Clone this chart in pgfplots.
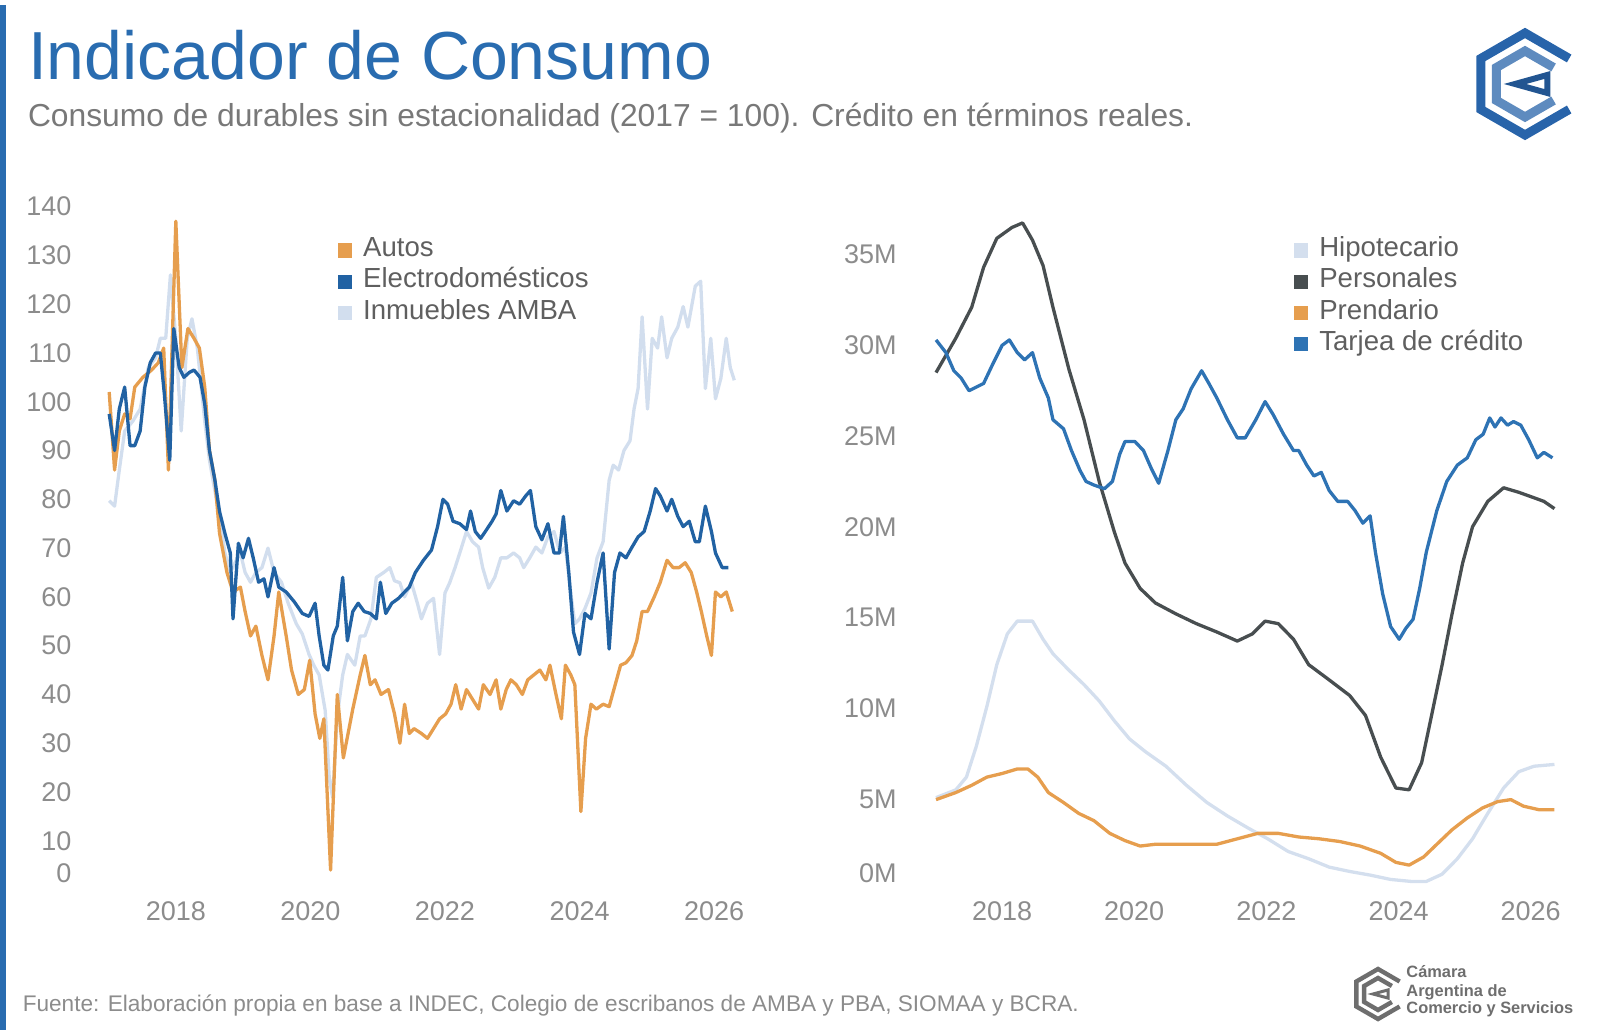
\documentclass[border=0pt]{standalone}
\usepackage{pgfplots}
\pgfplotsset{compat=1.18}
\usepackage{fontspec}
\setmainfont{Liberation Sans}
\definecolor{titleblue}{RGB}{41,108,176}
\definecolor{subgray}{RGB}{120,120,120}
\definecolor{tickgray}{RGB}{140,140,140}
\definecolor{leggray}{RGB}{95,95,95}
\definecolor{cauto}{RGB}{230,158,78}
\definecolor{celec}{RGB}{33,98,163}
\definecolor{cinm}{RGB}{210,222,238}
\definecolor{chipo}{RGB}{212,223,238}
\definecolor{cpers}{RGB}{72,78,80}
\definecolor{ctarj}{RGB}{46,115,180}
\definecolor{logoblue}{RGB}{40,100,170}
\definecolor{logogray}{RGB}{110,110,110}
\pgfplotsset{
  panel/.style={
    scale only axis,
    axis line style={draw=none},
    major tick length=0pt,
    tick style={draw=none},
    tick label style={font=\fontsize{13.5}{15}\selectfont, text=tickgray},
    /pgf/number format/assume math mode=true,
    xtick={2018,2020,2022,2024,2026},
    xticklabels={2018,2020,2022,2024,2026},
    xticklabel style={yshift=-2.4pt},
    xmin=2016.9, xmax=2026.45,
    ymin=0,
    legend cell align=left,
    legend image code/.code={\fill[#1,draw=none] (0pt,-3.6pt) rectangle (7.2pt,3.6pt);},
    legend style={draw=none, fill=none, anchor=north west, inner sep=0pt,
      font=\fontsize{13.8}{15.6}\selectfont, text=leggray, row sep=0pt,
      /tikz/every odd column/.append style={column sep=3.5pt},
      nodes={inner ysep=0pt, text height=10.9pt, text depth=4.7pt}},
    every axis plot/.append style={line width=1.65pt, line join=round},
  }
}
\begin{document}
\begin{tikzpicture}
\useasboundingbox (0,0) rectangle (800pt,516.5pt);
\fill[titleblue] (0,1.5pt) rectangle (3pt,514pt);
\node[anchor=base west, inner sep=0pt, text=titleblue, font=\fontsize{34}{40}\selectfont] at (13.8pt,476.6pt) {Indicador de Consumo};
\node[anchor=base west, inner sep=0pt, text=subgray, font=\fontsize{15.9}{18}\selectfont] at (13.8pt,453.1pt) {Consumo de durables sin estacionalidad (2017 = 100). Crédito en términos reales.};
\node[anchor=base west, inner sep=0pt, text=tickgray, font=\fontsize{11.3}{13}\selectfont] at (11.2pt,11pt) {Fuente: Elaboración propia en base a INDEC, Colegio de escribanos de AMBA y PBA, SIOMAA y BCRA.};
% logo top right
\begin{scope}[shift={(762.5pt,474.5pt)}, line width=4.5pt, line join=miter]
\draw[logoblue] (30:25.5pt) -- (90:25.5pt) -- (150:25.5pt) -- (210:25.5pt) -- (270:25.5pt) -- (330:25.5pt);
\draw[logoblue!75!white] (30:16.5pt) -- (90:16.5pt) -- (150:16.5pt) -- (210:16.5pt) -- (270:16.5pt) -- (330:16.5pt);
\draw[logoblue!85!black, line width=3pt] (22:12pt) -- (180:5pt) -- (338:12pt) -- cycle;
\end{scope}
% logo bottom right
\begin{scope}[shift={(689pt,19.5pt)}, line width=2.2pt, line join=miter]
\draw[logogray] (30:12.5pt) -- (90:12.5pt) -- (150:12.5pt) -- (210:12.5pt) -- (270:12.5pt) -- (330:12.5pt);
\draw[logogray] (30:8pt) -- (90:8pt) -- (150:8pt) -- (210:8pt) -- (270:8pt) -- (330:8pt);
\draw[logogray, line width=1.5pt] (22:5.5pt) -- (180:2.5pt) -- (338:5.5pt) -- cycle;
\end{scope}
\node[anchor=base west, inner sep=0pt, text=logogray, font=\bfseries\fontsize{8.2}{9}\selectfont] at (703pt,27.5pt) {Cámara};
\node[anchor=base west, inner sep=0pt, text=logogray, font=\bfseries\fontsize{8.2}{9}\selectfont] at (703pt,18.5pt) {Argentina de};
\node[anchor=base west, inner sep=0pt, text=logogray, font=\bfseries\fontsize{8.2}{9}\selectfont] at (703pt,9.5pt) {Comercio y Servicios};

% ---------------- left panel
\begin{axis}[panel, at={(50.9pt,71.7pt)}, anchor=south west,
  width=321.3pt, height=341.5pt, ymax=140,
  ytick={10,20,...,140}, extra y ticks={0},
  extra y tick style={tick label style={yshift=8.2pt}},
  yticklabel style={xshift=-11.7pt},
  legend style={at={(0.3666,0.959)}}]
\addlegendimage{cauto}\addlegendentry{Autos}
\addlegendimage{celec}\addlegendentry{Electrodomésticos}
\addlegendimage{cinm}\addlegendentry{Inmuebles AMBA}
\addplot[cinm, forget plot] table {
2017.01 79.7
2017.09 78.6
2017.16 86
2017.24 94
2017.36 96
2017.47 98.5
2017.59 107
2017.70 109
2017.77 113
2017.85 113
2017.92 126
2018.00 113
2018.08 94
2018.17 113
2018.24 117
2018.32 111
2018.43 96
2018.50 88
2018.58 81.8
2018.65 76.5
2018.73 69
2018.81 65
2018.88 67
2018.96 69
2019.03 65
2019.11 63
2019.19 65
2019.28 66
2019.37 70
2019.46 65
2019.57 63
2019.67 58.7
2019.79 54.5
2019.88 52.4
2019.98 48.2
2020.05 46
2020.13 44
2020.22 36.7
2020.28 23
2020.33 18.9
2020.40 35.6
2020.48 44
2020.55 48.2
2020.66 46
2020.74 52
2020.81 52
2020.90 55.5
2020.98 64
2021.09 65
2021.18 66
2021.25 63.3
2021.33 62.9
2021.40 60
2021.50 63
2021.59 58.7
2021.65 55.5
2021.74 58.7
2021.83 59.7
2021.92 48.2
2022.00 60.8
2022.07 62.9
2022.15 66
2022.22 69
2022.32 73.4
2022.41 71.3
2022.50 70.2
2022.56 66
2022.65 61.8
2022.74 64
2022.83 68
2022.92 68
2023.02 69
2023.11 68
2023.17 66
2023.26 68
2023.35 70.2
2023.44 69
2023.53 72.3
2023.62 73.4
2023.71 69
2023.79 70.2
2023.87 60.8
2023.93 54.5
2024.00 55.5
2024.08 57.6
2024.17 60.8
2024.26 68
2024.35 71.3
2024.44 83.9
2024.50 87
2024.58 86
2024.66 90
2024.75 92
2024.81 98.5
2024.87 102.7
2024.93 117.4
2025.01 98.5
2025.08 113
2025.16 111
2025.22 117.4
2025.30 109
2025.37 113
2025.46 115.3
2025.54 119.5
2025.61 115.3
2025.72 123.7
2025.80 124.7
2025.87 102.7
2025.95 113
2026.02 100.6
2026.10 104.8
2026.18 113
2026.24 107
2026.30 104.4
};
\addplot[cauto, forget plot] table {
2017.01 102
2017.09 86
2017.16 94
2017.24 97.5
2017.32 96.5
2017.39 103
2017.51 105
2017.64 106.5
2017.74 108
2017.82 111
2017.89 86
2018.00 137
2018.09 107
2018.18 115
2018.27 113
2018.35 111
2018.43 103
2018.50 90
2018.58 84
2018.65 73
2018.76 65
2018.85 61
2018.96 62
2019.03 57
2019.11 52
2019.19 54
2019.28 48
2019.37 43
2019.46 52
2019.53 61
2019.64 52
2019.72 45
2019.82 40
2019.91 41
2019.99 47
2020.07 36
2020.14 31
2020.20 35
2020.30 4
2020.40 40
2020.49 27
2020.63 37
2020.74 44
2020.81 48
2020.89 42
2020.96 43
2021.05 40
2021.16 41
2021.25 36
2021.33 30
2021.40 38
2021.47 32
2021.54 33
2021.65 32
2021.74 31
2021.83 33
2021.92 35
2022.01 36
2022.09 38
2022.16 42
2022.24 37
2022.32 41
2022.41 39
2022.50 37
2022.57 42
2022.67 40
2022.76 43
2022.83 37
2022.91 41
2022.98 43
2023.06 42
2023.15 40
2023.23 43
2023.32 44
2023.41 45
2023.50 43
2023.56 46
2023.65 40
2023.73 35
2023.79 46
2023.87 44
2023.93 42
2024.02 16
2024.09 31
2024.17 38
2024.25 37
2024.35 38
2024.44 37.5
2024.53 42
2024.61 46
2024.69 46.5
2024.78 48
2024.85 51
2024.93 57
2025.01 57
2025.11 60
2025.20 63
2025.30 67.5
2025.39 66
2025.48 66
2025.57 67
2025.66 65
2025.74 61
2025.81 57
2025.89 52
2025.96 48
2026.02 61
2026.10 60
2026.18 61
2026.27 57
};
\addplot[celec, forget plot] table {
2017.01 97.5
2017.09 90
2017.16 98.5
2017.24 103
2017.32 91
2017.39 91
2017.47 94
2017.54 103
2017.62 108
2017.70 110
2017.77 110
2017.83 101.5
2017.91 88
2017.97 115
2018.05 107
2018.12 105
2018.20 106
2018.27 106.5
2018.36 105
2018.43 99.5
2018.50 90
2018.58 84
2018.65 77.5
2018.73 73
2018.81 69
2018.85 55.5
2018.93 71
2019.00 68
2019.08 72
2019.15 68
2019.23 63
2019.31 63.7
2019.37 60
2019.46 66
2019.53 62
2019.64 61
2019.76 59
2019.88 56.6
2019.98 56
2020.07 58.7
2020.13 52
2020.20 46
2020.26 45
2020.34 52
2020.40 54
2020.48 64
2020.55 51
2020.63 57
2020.71 58.7
2020.80 57
2020.89 56.6
2020.98 55.5
2021.04 63
2021.12 56.6
2021.21 58.7
2021.31 59.7
2021.40 61
2021.47 62
2021.56 65
2021.68 67.5
2021.80 69.6
2021.89 74.4
2021.97 80
2022.04 79
2022.12 75.5
2022.22 75
2022.32 73.8
2022.38 77.6
2022.45 73.4
2022.53 72
2022.60 73.4
2022.70 75.5
2022.76 77
2022.83 81.8
2022.92 77.6
2023.02 79.7
2023.11 79
2023.20 80.7
2023.27 81.8
2023.35 74.4
2023.44 71.7
2023.53 75
2023.62 69
2023.70 69
2023.76 76.5
2023.84 65
2023.91 52.8
2024.00 48.2
2024.08 56.6
2024.17 55.5
2024.26 63
2024.35 69
2024.44 49.3
2024.52 65
2024.60 69
2024.69 68
2024.78 70.2
2024.87 72.3
2024.96 73.4
2025.05 77.6
2025.13 82.2
2025.20 80.7
2025.30 77.6
2025.37 80
2025.46 76.5
2025.54 74.4
2025.63 75.5
2025.72 71.3
2025.78 71.3
2025.87 78.6
2025.96 73.4
2026.02 69
2026.12 66
2026.21 66
};
\end{axis}

% ---------------- right panel
\begin{axis}[panel, at={(464.7pt,71.7pt)}, anchor=south west,
  width=315.5pt, height=341.5pt, ymax=37.65,
  ytick={5,10,...,35}, yticklabels={5M,10M,15M,20M,25M,30M,35M},
  extra y ticks={0}, extra y tick labels={0M},
  extra y tick style={tick label style={yshift=8.2pt}},
  yticklabel style={xshift=-12.8pt},
  legend style={at={(0.577,0.959)}}]
\addplot[chipo] table {
2017.00 5.07
2017.30 5.5
2017.46 6.2
2017.61 7.9
2017.77 10.1
2017.92 12.4
2018.08 14.1
2018.23 14.8
2018.46 14.8
2018.62 13.8
2018.77 13.0
2019.01 12.1
2019.24 11.3
2019.47 10.4
2019.70 9.3
2019.93 8.3
2020.17 7.6
2020.48 6.8
2020.79 5.75
2021.10 4.8
2021.41 4.06
2021.72 3.4
2022.02 2.8
2022.33 2.1
2022.64 1.7
2022.95 1.24
2023.26 1.0
2023.57 0.8
2023.88 0.56
2024.19 0.45
2024.42 0.45
2024.66 0.85
2024.89 1.7
2025.12 2.8
2025.35 4.2
2025.59 5.6
2025.82 6.5
2026.05 6.8
2026.36 6.9
};
\addlegendentry{Hipotecario}
\addplot[cpers] table {
2017.00 28.5
2017.30 30.4
2017.54 32.1
2017.72 34.3
2017.92 35.9
2018.15 36.5
2018.31 36.75
2018.46 35.8
2018.62 34.4
2018.77 32.1
2019.01 28.7
2019.24 25.9
2019.47 22.5
2019.70 19.7
2019.86 18.0
2020.09 16.6
2020.32 15.8
2020.63 15.2
2020.94 14.66
2021.25 14.2
2021.56 13.7
2021.79 14.1
2021.98 14.8
2022.18 14.66
2022.41 13.8
2022.64 12.4
2022.95 11.56
2023.26 10.7
2023.50 9.6
2023.73 7.3
2023.96 5.6
2024.16 5.5
2024.35 7.0
2024.50 9.6
2024.66 12.4
2024.81 15.2
2024.97 18.0
2025.12 20.0
2025.35 21.4
2025.59 22.15
2025.82 21.9
2026.05 21.6
2026.20 21.4
2026.36 21.0
};
\addlegendentry{Personales}
\addplot[cauto] table {
2017.00 4.96
2017.30 5.35
2017.54 5.75
2017.77 6.2
2018.00 6.4
2018.23 6.65
2018.39 6.65
2018.54 6.2
2018.70 5.35
2018.93 4.8
2019.16 4.2
2019.39 3.8
2019.63 3.1
2019.86 2.7
2020.09 2.4
2020.32 2.5
2020.63 2.5
2020.94 2.5
2021.25 2.5
2021.56 2.8
2021.87 3.1
2022.18 3.1
2022.49 2.9
2022.80 2.8
2023.11 2.65
2023.42 2.4
2023.73 2.0
2023.96 1.5
2024.16 1.35
2024.38 1.8
2024.58 2.5
2024.81 3.3
2025.04 3.95
2025.27 4.5
2025.50 4.85
2025.70 4.96
2025.89 4.6
2026.13 4.4
2026.36 4.4
};
\addlegendentry{Prendario}
\addplot[ctarj] table {
2017.00 30.3
2017.15 29.6
2017.27 28.6
2017.38 28.2
2017.50 27.5
2017.61 27.7
2017.72 27.9
2017.85 28.9
2018.00 30.0
2018.11 30.3
2018.23 29.6
2018.34 29.2
2018.46 29.6
2018.57 28.2
2018.70 27.1
2018.77 25.9
2018.93 25.4
2019.05 24.2
2019.18 23.1
2019.27 22.5
2019.39 22.3
2019.55 22.1
2019.67 22.5
2019.78 24.0
2019.86 24.7
2020.01 24.7
2020.14 24.2
2020.26 23.2
2020.37 22.4
2020.51 24.2
2020.63 25.9
2020.74 26.5
2020.86 27.6
2021.02 28.6
2021.13 27.9
2021.25 27.1
2021.41 25.9
2021.56 24.9
2021.68 24.9
2021.84 25.9
2021.98 26.9
2022.10 26.2
2022.26 25.1
2022.41 24.2
2022.49 24.2
2022.61 23.4
2022.72 22.8
2022.83 23.0
2022.95 22.0
2023.08 21.4
2023.23 21.4
2023.34 20.9
2023.46 20.2
2023.57 20.6
2023.65 18.6
2023.76 16.3
2023.88 14.5
2024.01 13.8
2024.11 14.4
2024.22 14.9
2024.32 16.6
2024.42 18.6
2024.58 20.9
2024.73 22.5
2024.89 23.4
2025.04 23.8
2025.17 24.8
2025.28 25.1
2025.38 26.0
2025.46 25.5
2025.55 26.0
2025.65 25.6
2025.74 25.8
2025.85 25.6
2025.97 24.8
2026.10 23.8
2026.20 24.1
2026.33 23.8
};
\addlegendentry{Tarjea de crédito}
\end{axis}
\end{tikzpicture}
\end{document}
